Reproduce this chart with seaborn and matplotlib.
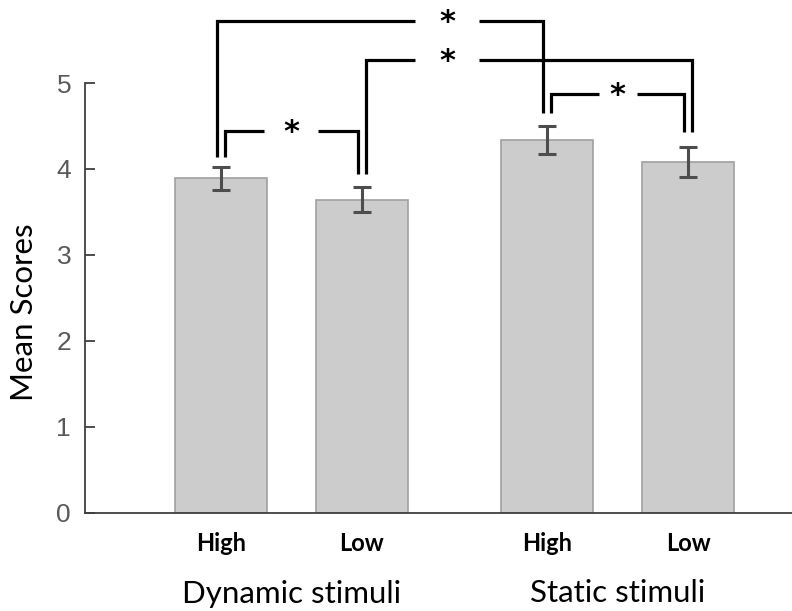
import matplotlib
matplotlib.use("Agg")
import matplotlib.pyplot as plt
import seaborn as sns
import pandas as pd
import numpy as np

# ---- data ----
stimuli = ["Dynamic stimuli", "Dynamic stimuli", "Static stimuli", "Static stimuli"]
levels = ["High", "Low", "High", "Low"]
means = [3.89, 3.64, 4.335, 4.08]
errors = [0.135, 0.145, 0.165, 0.175]
yticks = [0, 1, 2, 3, 4, 5]

# significance brackets
br_left = [0, 1, 0, 2]
br_right = [2, 3, 1, 3]
br_height = [5.72, 5.27, 4.44, 4.87]
br_left_end = [4.14, 3.94, 4.14, 4.65]
br_right_end = [4.65, 4.43, 3.94, 4.43]
br_left_side = [-1, 1, 1, 1]
br_right_side = [-1, 1, -1, -1]
br_star_x = [0.477, 0.477, None, None]   # None -> midpoint of bracket
br_gap = [32, 32, 27, 19]
br_label = ["*", "*", "*", "*"]

df = pd.DataFrame({"stim": stimuli, "level": levels, "mean": means})

sns.set_theme(style="white")
plt.rcParams["font.family"] = ["Lato", "DejaVu Sans"]

fig = plt.figure(figsize=(7.92, 6.11), dpi=100)
ax = fig.add_axes([85 / 792, 1 - 512.5 / 611, 1 - 85 / 792, (512.5 - 5.7) / 611])

sns.barplot(data=df, x="stim", y="mean", hue="level", order=["Dynamic stimuli", "Static stimuli"],
            hue_order=["High", "Low"], palette=["#cccccc", "#cccccc"], width=0.865, gap=0.347,
            errorbar=None, edgecolor="#a0a0a0", linewidth=1.2, legend=False, ax=ax)

bars = sorted([p for p in ax.patches if p.get_height() > 0], key=lambda p: p.get_x())
centers = [p.get_x() + p.get_width() / 2 for p in bars]

ax.errorbar(centers, means, yerr=errors, fmt="none", ecolor="#4d4d4d", elinewidth=2.2,
            capsize=6.8, capthick=2.2, zorder=5)

ax.set_xlim(-0.633, 1.535)
ax.set_ylim(0, 5.9)
ax.set_yticks(yticks)
ax.set_yticklabels([str(t) for t in yticks], fontsize=19, color="#595959",
                   fontfamily="Liberation Sans")
ax.tick_params(axis="y", direction="in", length=7, width=1.3, color="#404040", pad=10, left=True)
ax.tick_params(axis="x", length=0, pad=14)

ax.set_xticks(centers)
ax.set_xticklabels(levels, fontsize=17, fontweight="bold", color="black")
ax.set_xlabel("")
ax.set_ylabel("Mean Scores", fontsize=22.5, color="black")
ax.yaxis.set_label_coords(-0.066, 0.396)

for s in ["top", "right"]:
    ax.spines[s].set_visible(False)
ax.spines["left"].set_bounds(0, 5)
ax.spines["left"].set_color("#404040")
ax.spines["left"].set_linewidth(1.3)
ax.spines["bottom"].set_color("#404040")
ax.spines["bottom"].set_linewidth(1.3)

grp_names = ["Dynamic stimuli", "Static stimuli"]
for g, name in enumerate(grp_names):
    gx = (centers[2 * g] + centers[2 * g + 1]) / 2
    ax.annotate(name, xy=(gx, 0), xycoords=("data", "axes fraction"), xytext=(0, -81),
                textcoords="offset pixels", ha="center", va="center", fontsize=22.5, color="black",
                annotation_clip=False)

xr = ax.get_xlim()
ax_w_px = ax.get_position().width * 792
px = (xr[1] - xr[0]) / ax_w_px
off = 3.8 * px
for i in range(len(br_left)):
    xl = centers[br_left[i]] + br_left_side[i] * off
    xrt = centers[br_right[i]] + br_right_side[i] * off
    h = br_height[i]
    mid = br_star_x[i] if br_star_x[i] is not None else (xl + xrt) / 2
    g = br_gap[i] * px
    kw = dict(color="black", lw=2.3, solid_capstyle="butt", solid_joinstyle="miter", clip_on=False, zorder=6)
    ax.plot([xl, xl, mid - g], [br_left_end[i], h, h], **kw)
    ax.plot([mid + g, xrt, xrt], [h, h, br_right_end[i]], **kw)
    ax.text(mid, h - 0.02, br_label[i], ha="center", va="center", fontsize=22, color="black",
            fontweight="bold", fontfamily="DejaVu Sans", clip_on=False)

fig.savefig("out.png", dpi=100)
